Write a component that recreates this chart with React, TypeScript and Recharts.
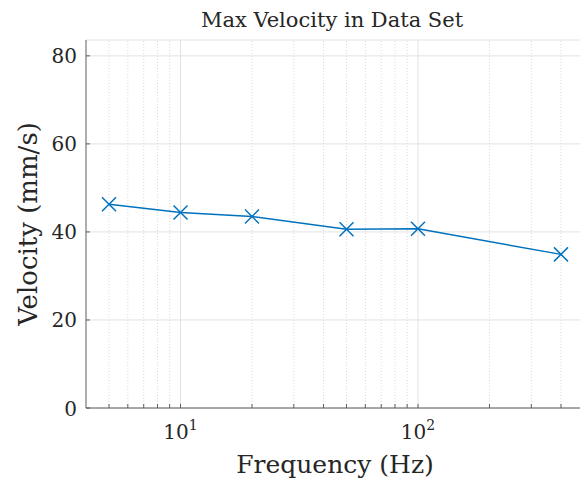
import React from 'react';
import { LineChart, Line, XAxis, YAxis, CartesianGrid, ReferenceLine } from 'recharts';

// measured frequencies (Hz) and peak velocity (mm/s)
const frequencies = [5, 10, 20, 50, 100, 400];
const velocities = [46.3, 44.4, 43.5, 40.6, 40.7, 34.9];

const majorTicks = [10, 100];
const minorTicks = [5, 6, 7, 8, 9, 20, 30, 40, 50, 60, 70, 80, 90, 200, 300, 400];
const allXTicks = [...minorTicks, ...majorTicks].sort((a, b) => a - b);
const yTicks = [0, 20, 40, 60, 80];

const data = frequencies.map((f, i) => ({ freq: f, vel: velocities[i] }));

const FONT = "'DejaVu Serif', serif";
const AXIS_COLOR = '#5c5c5c';
const TEXT_COLOR = '#262626';
const BLUE = '#0072BD';
const TICK_LEN = 4;

const txt = (size: number) => ({ fontFamily: FONT, fontSize: size, fill: TEXT_COLOR });

const BottomTick = (props: any) => {
  const { x, y, payload } = props;
  const v = payload.value;
  const isMajor = majorTicks.includes(v);
  return (
    <g>
      <line x1={x} x2={x} y1={y} y2={y - TICK_LEN} stroke={AXIS_COLOR} strokeWidth={1} />
      {isMajor && (
        <text x={x} y={y + 31} textAnchor="middle" style={txt(20)}>
          10
          <tspan dy={-9} style={{ fontSize: 14 }}>{Math.round(Math.log10(v))}</tspan>
        </text>
      )}
    </g>
  );
};

const TopTick = (props: any) => {
  const { x, y } = props;
  return <line x1={x} x2={x} y1={y} y2={y + TICK_LEN} stroke={AXIS_COLOR} strokeWidth={1} />;
};

const LeftTick = (props: any) => {
  const { x, y, payload } = props;
  return (
    <g>
      <line x1={x} x2={x + TICK_LEN} y1={y} y2={y} stroke={AXIS_COLOR} strokeWidth={1} />
      <text x={x - 9} y={y + 7.5} textAnchor="end" style={txt(20)}>
        {payload.value}
      </text>
    </g>
  );
};

const RightTick = (props: any) => {
  const { x, y } = props;
  return <line x1={x} x2={x - TICK_LEN} y1={y} y2={y} stroke={AXIS_COLOR} strokeWidth={1} />;
};

// X-shaped marker like MATLAB 'x'
const CrossDot = (props: any) => {
  const { cx, cy, index } = props;
  if (cx == null || cy == null) return null;
  const s = 7;
  return (
    <g key={`m-${index}`}>
      <line x1={cx - s} y1={cy - s} x2={cx + s} y2={cy + s} stroke={BLUE} strokeWidth={1.5} />
      <line x1={cx - s} y1={cy + s} x2={cx + s} y2={cy - s} stroke={BLUE} strokeWidth={1.5} />
    </g>
  );
};

export default function App() {
  return (
    <div style={{ position: 'absolute', left: 0, top: 0, width: 580, height: 483, overflow: 'hidden', background: '#fff' }}>
      <LineChart width={590} height={483} data={data} margin={{ top: 40, right: 6, bottom: 0, left: 0 }}>
        <CartesianGrid vertical={false} stroke="#e2e2e2" strokeWidth={1} />
        {minorTicks.map((v) => (
          <ReferenceLine key={`mn-${v}`} x={v} stroke="#dadada" strokeDasharray="1 2" strokeWidth={1} />
        ))}
        {majorTicks.map((v) => (
          <ReferenceLine key={`mj-${v}`} x={v} stroke="#e2e2e2" strokeWidth={1} />
        ))}
        <XAxis
          dataKey="freq"
          type="number"
          scale="log"
          domain={[4, 500]}
          allowDataOverflow
          ticks={allXTicks}
          interval={0}
          tickSize={0}
          tickMargin={0}
          tick={<BottomTick />}
          height={75}
          axisLine={{ stroke: AXIS_COLOR, strokeWidth: 1 }}
          tickLine={false}
          label={{
            content: (p: any) => {
              const vb = p.viewBox;
              return (
                <text x={vb.x + vb.width / 2} y={473} textAnchor="middle" style={txt(25)}>
                  Frequency (Hz)
                </text>
              );
            },
          }}
        />
        <XAxis
          xAxisId="top"
          orientation="top"
          dataKey="freq"
          type="number"
          scale="log"
          domain={[4, 500]}
          allowDataOverflow
          ticks={allXTicks}
          interval={0}
          tickSize={0}
          tickMargin={0}
          tick={<TopTick />}
          height={0}
          axisLine={{ stroke: AXIS_COLOR, strokeWidth: 1 }}
          tickLine={false}
        />
        <YAxis
          type="number"
          domain={[0, 83.6]}
          allowDataOverflow
          ticks={yTicks}
          interval={0}
          width={86}
          tickSize={0}
          tickMargin={0}
          tick={<LeftTick />}
          axisLine={{ stroke: AXIS_COLOR, strokeWidth: 1 }}
          tickLine={false}
          label={{
            content: () => (
              <g>
                <text x={332} y={27} textAnchor="middle" style={txt(21)}>
                  Max Velocity in Data Set
                </text>
                <text x={37} y={224} transform="rotate(-90, 37, 224)" textAnchor="middle" style={txt(26)}>
                  Velocity (mm/s)
                </text>
              </g>
            ),
          }}
        />
        <YAxis
          yAxisId="right"
          orientation="right"
          type="number"
          domain={[0, 83.6]}
          allowDataOverflow
          ticks={yTicks}
          interval={0}
          width={0}
          tickSize={0}
          tickMargin={0}
          tick={<RightTick />}
          axisLine={{ stroke: AXIS_COLOR, strokeWidth: 1 }}
          tickLine={false}
        />
        <Line
          type="linear"
          dataKey="vel"
          stroke={BLUE}
          strokeWidth={1.5}
          dot={<CrossDot />}
          activeDot={false}
          isAnimationActive={false}
        />
      </LineChart>
    </div>
  );
}
